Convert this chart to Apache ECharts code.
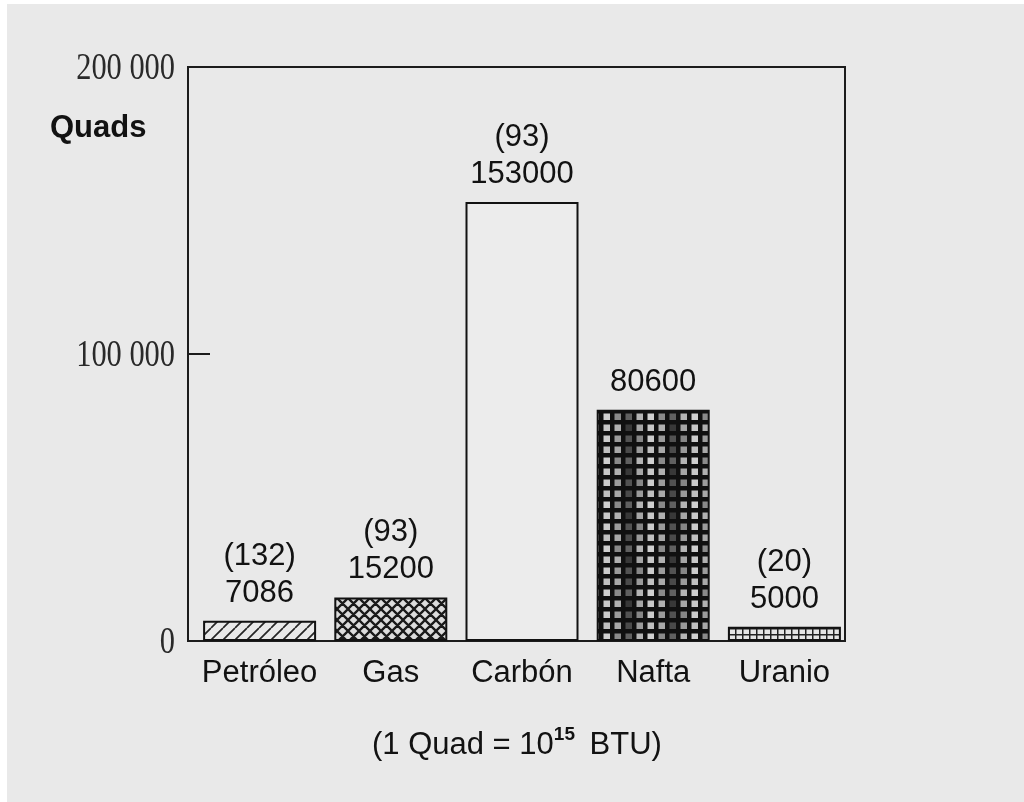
<!DOCTYPE html>
<html>
<head>
<meta charset="utf-8">
<script src="https://cdn.jsdelivr.net/npm/echarts@6/dist/echarts.min.js"></script>
<style>
  html, body { margin: 0; padding: 0; background: #ffffff; }
  #chart { position: absolute; left: 7px; top: 4px; width: 1017px; height: 798px; }
</style>
</head>
<body>
<div id="chart"></div>
<script>
// Energy reserves by source (Quads), with years of supply in parentheses
const categories = ['Petróleo', 'Gas', 'Carbón', 'Nafta', 'Uranio'];
const reserves = [7086, 15200, 153000, 80600, 5000];
const yearsOfSupply = ['(132)', '(93)', '(93)', '', '(20)'];
const yTicks = [0, 100000, 200000];
const yTickLabels = ['0', '100 000', '200 000'];

const BG = '#e9e9e9';
const INK = '#121212';

// ---- fill textures for each bar ----
function makeTile(w, h, draw) {
  const c = document.createElement('canvas');
  c.width = w; c.height = h;
  const g = c.getContext('2d');
  draw(g, w, h);
  return c;
}

// single diagonal hatch "/"
const hatchTile = makeTile(12, 12, (g, w, h) => {
  g.fillStyle = BG; g.fillRect(0, 0, w, h);
  g.strokeStyle = '#262626'; g.lineWidth = 1.7;
  g.beginPath();
  [-w, 0, w].forEach(x0 => { g.moveTo(x0, h); g.lineTo(x0 + w, 0); });
  g.stroke();
});

// cross hatch (diamonds)
const crossTile = makeTile(11, 11, (g, w, h) => {
  g.fillStyle = '#dcdcdc'; g.fillRect(0, 0, w, h);
  g.strokeStyle = '#1a1a1a'; g.lineWidth = 2.3;
  g.beginPath();
  [-w, 0, w].forEach(x0 => { g.moveTo(x0, h); g.lineTo(x0 + w, 0); });
  [-w, 0, w].forEach(x0 => { g.moveTo(x0, 0); g.lineTo(x0 + w, h); });
  g.stroke();
});

// plain (no texture)
const plainTile = makeTile(4, 4, (g, w, h) => {
  g.fillStyle = '#ececec'; g.fillRect(0, 0, w, h);
});

// dense dark grid with lighter cells
const cellShades = [
  ['#4a4a4a', '#9a9a9a', '#c0c0c0', '#a8a8a8'],
  ['#606060', '#b4b4b4', '#d0d0d0', '#8a8a8a'],
  ['#383838', '#a6a6a6', '#c8c8c8', '#b0b0b0'],
  ['#525252', '#868686', '#cccccc', '#9c9c9c']
];
const darkTile = makeTile(44, 44, (g, w, h) => {
  g.fillStyle = '#101010'; g.fillRect(0, 0, w, h);
  for (let r = 0; r < 4; r++) {
    for (let c = 0; c < 4; c++) {
      g.fillStyle = cellShades[r][c];
      g.fillRect(c * 11 + 2.5, r * 11 + 2.5, 6.5, 6.5);
    }
  }
});

// fine square grid
const fineGridTile = makeTile(7, 6, (g, w, h) => {
  g.fillStyle = '#e4e4e4'; g.fillRect(0, 0, w, h);
  g.fillStyle = '#222222';
  g.fillRect(0, 0, w, 1.5);
  g.fillRect(0, 0, 1.5, h);
});

const barTextures = [hatchTile, crossTile, plainTile, darkTile, fineGridTile];

// ---- layout ----
const frame = { left: 181, right: 179, top: 63, bottom: 161 };
const barsGrid = { left: 187, right: 174, top: 63, bottom: 161 };

const chart = echarts.init(document.getElementById('chart'), null, { renderer: 'canvas' });

const option = {
  animation: false,
  backgroundColor: BG,
  grid: [
    Object.assign({ show: false }, barsGrid),
    Object.assign({ show: true, borderColor: '#1c1c1c', borderWidth: 2, backgroundColor: 'transparent' }, frame)
  ],
  xAxis: [
    {
      gridIndex: 0,
      type: 'category',
      data: categories,
      axisLine: { show: false },
      axisTick: { show: false },
      axisLabel: {
        interval: 0,
        color: INK,
        fontFamily: 'Liberation Sans',
        fontSize: 31,
        margin: 17
      }
    },
    { gridIndex: 1, type: 'value', show: false, min: 0, max: 1 }
  ],
  yAxis: [
    { gridIndex: 0, type: 'value', min: 0, max: 200000, show: false },
    {
      gridIndex: 1,
      type: 'value',
      min: 0,
      max: 200000,
      interval: 100000,
      axisLine: { show: true, lineStyle: { color: '#1c1c1c', width: 2 } },
      axisTick: { show: true, inside: true, length: 22, lineStyle: { color: '#1c1c1c', width: 2 } },
      axisLabel: { show: false },
      splitLine: { show: false }
    }
  ],
  series: [
    {
      type: 'bar',
      xAxisIndex: 0,
      yAxisIndex: 0,
      barWidth: 113,
      data: reserves.map((v, i) => ({
        value: v,
        itemStyle: { color: { image: barTextures[i], repeat: 'repeat' } }
      })),
      itemStyle: { borderColor: INK, borderWidth: 2 },
      label: {
        show: true,
        position: 'top',
        distance: 9,
        color: INK,
        fontFamily: 'Liberation Sans',
        fontSize: 31,
        lineHeight: 37,
        align: 'center',
        formatter: p => {
          const note = yearsOfSupply[p.dataIndex];
          return note ? note + '\n' + p.value : String(p.value);
        }
      }
    }
  ]
};

chart.setOption(option);

// Y tick labels in a tall condensed face, placed through the axis scale
const tickTexts = yTicks.map((v, i) => ({
  type: 'text',
  x: frame.left - 13,
  y: chart.convertToPixel({ yAxisIndex: 1 }, v) + 2,
  scaleX: 0.8,
  silent: true,
  style: {
    text: yTickLabels[i],
    font: '38px "Liberation Serif"',
    fill: '#2a2a2a',
    align: 'right',
    verticalAlign: 'middle',
    textAlign: 'right',
    textVerticalAlign: 'middle'
  }
}));

chart.setOption({
  graphic: tickTexts.concat([
    {
      type: 'text',
      left: 43,
      top: 109,
      silent: true,
      style: {
        text: 'Quads',
        font: 'bold 31px "Liberation Sans"',
        fill: INK
      }
    },
    {
      type: 'text',
      left: 365,
      top: 721,
      silent: true,
      style: {
        text: '(1 Quad = 10{sup|15} BTU)',
        font: '31px "Liberation Sans"',
        fill: INK,
        rich: {
          sup: { fontSize: 19, fontFamily: 'Liberation Sans', fill: INK, padding: [0, 6, 22, 0], fontWeight: 'bold' }
        }
      }
    }
  ])
});
</script>
</body>
</html>
